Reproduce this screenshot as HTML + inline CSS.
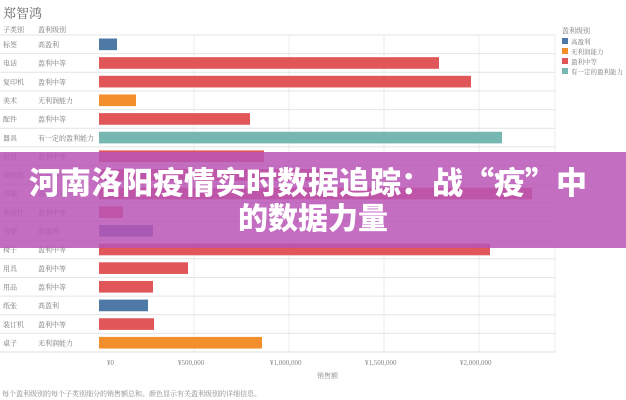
<!DOCTYPE html>
<html><head><meta charset="utf-8"><style>
html,body{margin:0;padding:0;background:#fff;width:626px;height:400px;overflow:hidden}
svg text{font-family:"Liberation Serif","Noto Serif CJK SC",serif}
.t{font-family:"Noto Sans CJK SC",sans-serif;font-weight:900}
</style></head><body>
<svg width="626" height="400" xmlns="http://www.w3.org/2000/svg">
<text x="3" y="18" font-size="13" fill="#666">郑智鸿</text>
<text x="3" y="32" font-size="7" fill="#777">子类别</text>
<text x="38" y="32" font-size="7" fill="#777">盈利级别</text>
<g stroke="#eee" stroke-width="1">
<line x1="194" y1="35" x2="194" y2="352"/><line x1="289" y1="35" x2="289" y2="352"/>
<line x1="384" y1="35" x2="384" y2="352"/><line x1="479" y1="35" x2="479" y2="352"/>
<line x1="555" y1="35" x2="555" y2="352"/>
</g>
<g id="rows"></g>
<text x="107" y="365" font-size="7" fill="#888">¥0</text>
<text x="178" y="365" font-size="7" fill="#888">¥500,000</text>
<text x="270" y="365" font-size="7" fill="#888">¥1,000,000</text>
<text x="365" y="365" font-size="7" fill="#888">¥1,500,000</text>
<text x="460" y="365" font-size="7" fill="#888">¥2,000,000</text>
<text x="317" y="378" font-size="7" fill="#888">销售额</text>
<text x="2" y="396" font-size="7" fill="#888">每个盈利级别的每个子类别细分的销售额总和。颜色显示有关盈利级别的详细信息。</text>
<text x="562" y="33" font-size="7" fill="#777">盈利级别</text>
<rect x="562" y="38" width="6" height="6" fill="#4e79a7"/><text x="571" y="44" font-size="6.5" fill="#777">高盈利</text>
<rect x="562" y="48" width="6" height="6" fill="#f28e2b"/><text x="571" y="54" font-size="6.5" fill="#777">无利润能力</text>
<rect x="562" y="58" width="6" height="6" fill="#e15759"/><text x="571" y="64" font-size="6.5" fill="#777">盈利中等</text>
<rect x="562" y="68" width="6" height="6" fill="#76b7b2"/><text x="571" y="74" font-size="6.5" fill="#777">有一定的盈利能力</text>
<rect x="0" y="152" width="626" height="96" fill="rgb(185,85,182)" fill-opacity="0.85"/>
<text class="t" x="308" y="194" font-size="31" fill="#fff" text-anchor="middle">河南洛阳疫情实时数据追踪：战“疫”中</text>
<text class="t" x="313" y="229" font-size="30" fill="#fff" text-anchor="middle">的数据力量</text>
</svg>
<script>
var d=[["标签","高盈利",117,"#4e79a7"],["电话","盈利中等",439,"#e15759"],["复印机","盈利中等",471,"#e15759"],["美术","无利润能力",136,"#f28e2b"],["配件","盈利中等",250,"#e15759"],["器具","有一定的盈利能力",502,"#76b7b2"],["信封","盈利中等",264,"#e15759"],["收纳具","盈利中等",330,"#e15759"],["书架","盈利中等",532,"#e15759"],["系固件","盈利中等",123,"#e15759"],["书架","高盈利",153,"#4e79a7"],["椅子","盈利中等",490,"#e15759"],["用具","盈利中等",188,"#e15759"],["用品","盈利中等",153,"#e15759"],["纸张","高盈利",148,"#4e79a7"],["装订机","盈利中等",154,"#e15759"],["桌子","无利润能力",262,"#f28e2b"]];
var g=document.getElementById("rows"),h="",h0=35,s=18.65;
d.forEach(function(r,i){var y=h0+i*s;
h+='<line x1="0" y1="'+y+'" x2="555" y2="'+y+'" stroke="#e4e4e4"/>';
h+='<text x="3" y="'+(y+12)+'" font-size="7" fill="#777">'+r[0]+'</text>';
h+='<text x="38" y="'+(y+12)+'" font-size="7" fill="#777">'+r[1]+'</text>';
h+='<rect x="99" y="'+(y+3.5)+'" width="'+(r[2]-99)+'" height="'+(s-7)+'" fill="'+r[3]+'"/>';});
h+='<line x1="0" y1="'+(h0+17*s)+'" x2="555" y2="'+(h0+17*s)+'" stroke="#ddd"/>';
g.innerHTML=h;
</script>
</body></html>
